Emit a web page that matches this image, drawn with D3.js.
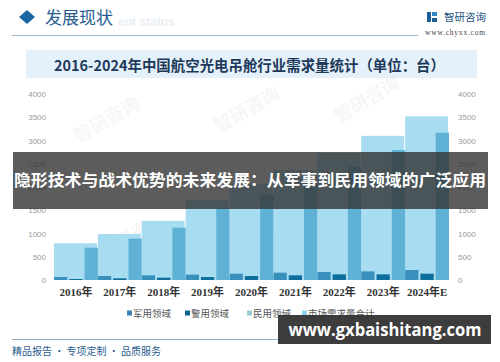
<!DOCTYPE html>
<html><head><meta charset="utf-8">
<script src="https://cdn.jsdelivr.net/npm/d3@7/dist/d3.min.js"></script>
<style>html,body{margin:0;padding:0;background:#fff;}svg{display:block;}</style>
</head><body>
<script>
const years = ["2016年","2017年","2018年","2019年","2020年","2021年","2022年","2023年","2024年E"];
const military = [64, 86, 100, 115, 136, 157, 172, 186, 215];
const police = [21, 36, 50, 64, 86, 101, 122, 122, 136];
const civilian = [695, 889, 1125, 1540, 1840, 2085, 2437, 2795, 3168];
const total = [790, 990, 1270, 1730, 2070, 2370, 2730, 3100, 3520];
const yTicks = [0, 500, 1000, 1500, 2000, 2500, 3000, 3500, 4000];
const seriesNames = ["军用领域", "警用领域", "民用领域", "市场需求量合计"];

const W = 500, H = 362;
const svg = d3.select("body").append("svg").attr("width", W).attr("height", H);
const sans = "'Noto Sans CJK SC','Noto Sans',sans-serif";
const serif = "'Liberation Serif','Noto Sans CJK SC',serif";

// faint watermarks (kept inside the plot, away from texts)
const wm = [[110,125],[250,115],[370,105],[120,250],[250,245],[380,250]];
wm.forEach(([x,y]) => {
  svg.append("text").attr("x", x).attr("y", y).attr("transform", `rotate(-30,${x},${y})`)
    .attr("text-anchor","middle").attr("font-family", sans).attr("font-size", 18).attr("font-weight", 700)
    .attr("fill", "#000").attr("opacity", 0.03).text("智研咨询");
});

// header
svg.append("path").attr("d", "M27,10 L35,17 L27,24 L19,17 Z").attr("fill", "#1b66a0");
svg.append("text").attr("x", 118).attr("y", 26).attr("font-family", "'Liberation Sans',sans-serif")
  .attr("font-weight", 700).attr("font-size", 12).attr("fill", "#e9eff4").text("ent status");
svg.append("text").attr("x", 45).attr("y", 24).attr("font-family", sans).attr("font-size", 17)
  .attr("fill", "#2a5d8f").text("发展现状");
svg.append("line").attr("x1", 12).attr("x2", 418).attr("y1", 35.5).attr("y2", 35.5)
  .attr("stroke", "#9db6ca").attr("stroke-width", 1);
// logo
svg.append("rect").attr("x", 427).attr("y", 12).attr("width", 4).attr("height", 10).attr("fill", "#1b5d95");
svg.append("rect").attr("x", 432).attr("y", 12).attr("width", 5).attr("height", 4).attr("fill", "#2f86c8");
svg.append("rect").attr("x", 432).attr("y", 18).attr("width", 5).attr("height", 4).attr("fill", "#1b5d95");
svg.append("text").attr("x", 444).attr("y", 21).attr("font-family", sans).attr("font-size", 10.5)
  .attr("fill", "#1d4f80").text("智研咨询");
svg.append("text").attr("x", 425).attr("y", 35).attr("font-family", serif).attr("font-size", 7.5)
  .attr("fill", "#444").attr("textLength", 60).text("www.chyxx.com");

// title box
svg.append("rect").attr("x", 26).attr("y", 50).attr("width", 451).attr("height", 28).attr("fill", "#e5f1fa");
svg.append("text").attr("x", 54).attr("y", 71).attr("font-family", sans).attr("font-weight", 700)
  .attr("font-size", 14.5).attr("fill", "#1d3a5a").attr("textLength", 391).attr("lengthAdjust", "spacingAndGlyphs")
  .text("2016-2024年中国航空光电吊舱行业需求量统计（单位：台）");

// scales
const x = d3.scaleBand().domain(years).range([54, 449]).paddingInner(0).paddingOuter(0);
const sub = d3.scaleBand().domain(["m","p","c"]).range([0, x.bandwidth()]).paddingInner(0.13).paddingOuter(0);
const y = d3.scaleLinear().domain([0, 4000]).range([280, 94]);

const g = svg.append("g");
g.selectAll("rect.total").data(years).join("rect").attr("class","total")
  .attr("x", d => x(d)).attr("width", x.bandwidth() - 1)
  .attr("y", (d,i) => y(total[i])).attr("height", (d,i) => y(0) - y(total[i]))
  .attr("fill", "#a7dcf1");
const subs = [["m", military, "#3a90bd"], ["p", police, "#0e6f9d"], ["c", civilian, "#5fb2d5"]];
subs.forEach(([k, arr, col]) => {
  g.selectAll("rect.s" + k).data(years).join("rect").attr("class", "s" + k)
    .attr("x", d => x(d) + sub(k)).attr("width", sub.bandwidth())
    .attr("y", (d,i) => y(arr[i])).attr("height", (d,i) => y(0) - y(arr[i]))
    .attr("fill", col);
});

// axes
const axL = svg.append("g").attr("transform", "translate(46,0)").call(d3.axisLeft(y).tickValues(yTicks).tickSize(0).tickPadding(0).tickFormat(d3.format("d")));
const axR = svg.append("g").attr("transform", "translate(458,0)").call(d3.axisRight(y).tickValues(yTicks).tickSize(0).tickPadding(0).tickFormat(d3.format("d")));
[axL, axR].forEach(a => {
  a.select(".domain").remove();
  a.selectAll("text").attr("font-family", "'Liberation Sans',sans-serif").attr("font-size", 8).attr("fill", "#999");
});
const axB = svg.append("g").attr("transform", "translate(0,286)").call(d3.axisBottom(x).tickSize(0).tickPadding(0));
axB.select(".domain").remove();
axB.selectAll("text").attr("font-family", serif).attr("font-weight", 700).attr("font-size", 11)
  .attr("fill", "#333").attr("dy", "0.95em");

// legend
const legX = [127, 185, 247, 302];
const legC = ["#3a82b0", "#0b6394", "#9ccadb", "#8fd5f0"];
seriesNames.forEach((n, i) => {
  svg.append("rect").attr("x", legX[i]).attr("y", 310.5).attr("width", 5).attr("height", 5).attr("fill", legC[i]);
  svg.append("text").attr("x", legX[i] + 6).attr("y", 316.5).attr("font-family", sans).attr("font-size", 9.5)
    .attr("fill", "#555").text(n);
});

// footer
svg.append("line").attr("x1", 12).attr("x2", 420).attr("y1", 339.5).attr("y2", 339.5).attr("stroke", "#8eaec4");
svg.append("text").attr("x", 12).attr("y", 355).attr("font-family", sans).attr("font-size", 10)
  .attr("fill", "#2a5d8f").text("精品报告 · 专项定制 · 品质服务");
svg.append("rect").attr("x", 278).attr("y", 315).attr("width", 213).attr("height", 29).attr("fill", "#333").attr("opacity", 0.95);
svg.append("text").attr("x", 385).attr("y", 336).attr("text-anchor", "middle").attr("font-family", "'Open Sans','DejaVu Sans',sans-serif")
  .attr("font-weight", 700).attr("font-size", 17.5).attr("fill", "#fff").attr("textLength", 193).attr("lengthAdjust","spacingAndGlyphs")
  .text("www.gxbaishitang.com");

// overlay banner
svg.append("rect").attr("x", 13).attr("y", 152).attr("width", 475).attr("height", 57).attr("fill", "#333").attr("opacity", 0.8);
svg.append("text").attr("x", 14).attr("y", 186).attr("font-family", sans).attr("font-weight", 700)
  .attr("font-size", 16.3).attr("fill", "#fff").attr("textLength", 472).attr("lengthAdjust", "spacingAndGlyphs")
  .text("隐形技术与战术优势的未来发展：从军事到民用领域的广泛应用");
</script>
</body></html>
